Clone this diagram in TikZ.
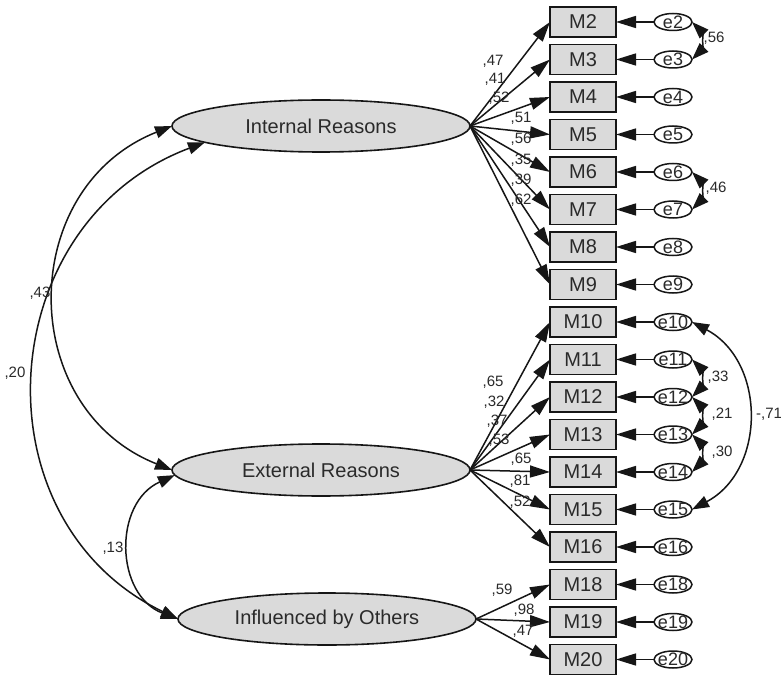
\documentclass[tikz,border=0pt]{standalone}
\usepackage{fontspec}
\setmainfont{Liberation Sans}
\usetikzlibrary{shapes.geometric,arrows.meta}
\newcommand\etxt[1]{\makebox[0pt]{\raisebox{-0.36em}[0pt][0pt]{#1}}}
\definecolor{boxfill}{HTML}{DADADA}
\definecolor{txt}{HTML}{2A2A2A}
\definecolor{ln}{HTML}{161616}
\begin{document}
\begin{tikzpicture}[x=1pt,y=1pt,
  latent/.style={ellipse, draw=ln, line width=1.6pt, fill=boxfill, minimum width=298pt, minimum height=52pt, inner sep=0pt, outer sep=0pt, font=\fontsize{20}{24}\selectfont, text=txt},
  obs/.style={rectangle, draw=ln, line width=1.7pt, fill=boxfill, minimum width=66pt, minimum height=30pt, inner sep=0pt, outer sep=0pt, font=\fontsize{20}{24}\selectfont, text=txt},
  err/.style={ellipse, draw=ln, line width=1.5pt, fill=white, minimum width=38pt, minimum height=17pt, inner sep=0pt, outer sep=0pt, font=\fontsize{18}{21}\selectfont, text=txt},
  lab/.style={font=\fontsize{15}{18}\selectfont, text=txt, inner sep=0pt},
  load/.style={draw=ln, line width=1.5pt, -{Triangle[length=20pt,width=12pt]}},
  cov/.style={draw=ln, line width=1.5pt, {Triangle[length=17pt,width=12pt]}-{Triangle[length=17pt,width=12pt]}},
]
\useasboundingbox (0,0) rectangle (781,-676);
\fill[white] (0,0) rectangle (781,-676);

% latent variables
\node[latent] (int) at (321,-126) {Internal Reasons};
\node[latent] (ext) at (321,-470) {External Reasons};
\node[latent] (inf) at (327,-619) {Influenced by Others};

% observed variables and errors
\foreach \n/\y in {2/22, 3/59.5, 4/97, 5/134.5, 6/172, 7/209.5, 8/247, 9/284.5,
  10/322, 11/359.5, 12/397, 13/434.5, 14/472, 15/509.5, 16/547,
  18/584.5, 19/622, 20/659.5}{
  \node[obs] (M\n) at (583,-\y) {M\n};
  \node[err] (e\n) at (673,-\y) {\etxt{e\n}};
  \draw[load] (e\n) -- (M\n);
}

% loadings
\foreach \n in {2,...,9}{ \draw[load] (int.east) -- (M\n.west); }
\foreach \n in {10,...,16}{ \draw[load] (ext.east) -- (M\n.west); }
\foreach \n in {18,19,20}{ \draw[load] (inf.east) -- (M\n.west); }

% loading labels
\node[lab] (l2) at (493,-61) {,47};
\node[lab] (l3) at (495,-79) {,41};
\node[lab] (l4) at (499,-98) {,52};
\node[lab] (l5) at (521,-118) {,51};
\node[lab] (l6) at (521,-139) {,56};
\node[lab] (l7) at (521,-160) {,35};
\node[lab] (l8) at (521,-180) {,39};
\node[lab] (l9) at (521,-200) {,62};
\node[lab] (l10) at (493,-382) {,65};
\node[lab] (l11) at (494,-402) {,32};
\node[lab] (l12) at (497,-421) {,37};
\node[lab] (l13) at (499,-440) {,53};
\node[lab] (l14) at (521,-459) {,65};
\node[lab] (l15) at (520,-481) {,81};
\node[lab] (l16) at (520,-502) {,52};
\node[lab] (l18) at (502,-590) {,59};
\node[lab] (l19) at (524,-610) {,98};
\node[lab] (l20) at (523,-631) {,47};

% error covariances
\draw[cov] (e2.east) to[bend left=45] (e3.east);
\draw[cov] (e6.east) to[bend left=45] (e7.east);
\draw[cov] (e11.east) to[bend left=45] (e12.east);
\draw[cov] (e12.east) to[bend left=45] (e13.east);
\draw[cov] (e13.east) to[bend left=45] (e14.east);
\draw[cov] (e10.east) to[bend left=62, looseness=1.15] (e15.east);
\node[lab] (c23) at (714,-38) {,56};
\node[lab] (c67) at (716,-188) {,46};
\node[lab] (c1112) at (718,-377) {,33};
\node[lab] (c1213) at (722,-414) {,21};
\node[lab] (c1314) at (722,-452) {,30};
\node[lab, anchor=west] (c1015) at (756,-414) {-,71};

% latent covariances
\draw[cov] (int.west) .. controls +(-156,-62) and +(-156,62) .. (ext.west);
\draw[cov] (int.188) .. controls +(-213,-80) and +(-205,99) .. (inf.west);
\draw[cov] (ext.182) .. controls +(-62,-28) and +(-63,24) .. (inf.west);
\node[lab] (c43) at (40,-293) {,43};
\node[lab] (c20) at (15,-373) {,20};
\node[lab] (c13) at (113,-548) {,13};
\end{tikzpicture}
\end{document}
